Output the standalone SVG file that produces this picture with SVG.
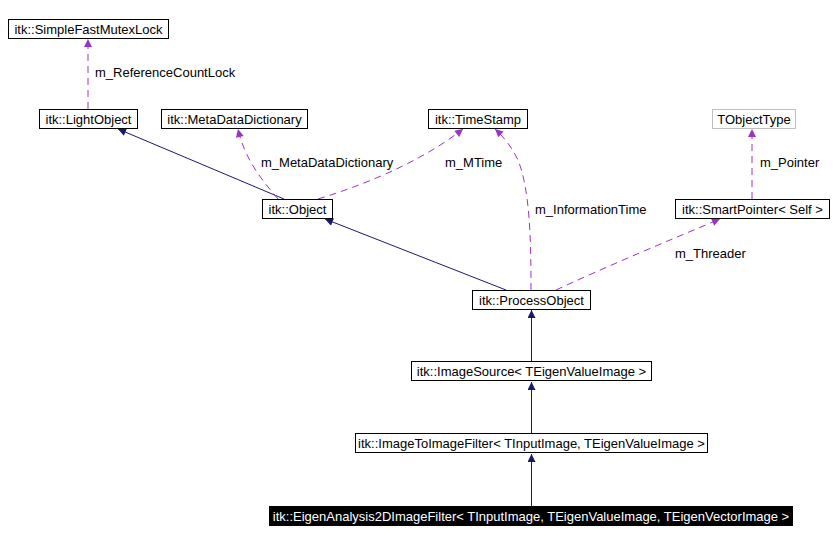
<svg xmlns="http://www.w3.org/2000/svg" width="834" height="542" viewBox="0 0 834 542">
<defs>
<style>
.n rect{fill:#fff;stroke:#000;stroke-width:1}
.n text{font-family:"Liberation Sans",Arial,sans-serif;font-size:13px;fill:#000;text-anchor:middle}
.lbl{font-family:"Liberation Sans",Arial,sans-serif;font-size:13px;fill:#000}
.inh{fill:none;stroke:#191970;stroke-width:1}
.use{fill:none;stroke:#9a32cd;stroke-width:1;stroke-dasharray:7,5}
</style>
<marker id="ah" viewBox="0 0 10 10" refX="10" refY="5" markerWidth="11" markerHeight="8" markerUnits="userSpaceOnUse" orient="auto"><path d="M0,0 L10,5 L0,10 z" fill="#191970"/></marker>
<marker id="ap" viewBox="0 0 10 10" refX="10" refY="5" markerWidth="11" markerHeight="8" markerUnits="userSpaceOnUse" orient="auto"><path d="M0,0 L10,5 L0,10 z" fill="#9a32cd"/></marker>
</defs>
<rect width="834" height="542" fill="#fff"/>
<g id="edges">
<path class="use" d="M88,109 L88,39" marker-end="url(#ap)"/>
<path class="inh" d="M284,199 L118,129" marker-end="url(#ah)"/>
<path class="use" d="M278,199 C262,180 245,160 238,129" marker-end="url(#ap)"/>
<path class="use" d="M318,199 C380,180 430,155 463,129" marker-end="url(#ap)"/>
<path class="inh" d="M506,290 L325,219" marker-end="url(#ah)"/>
<path class="use" d="M531,290 C531,240 530,190 518,160 C512,148 505,138 495,129" marker-end="url(#ap)"/>
<path class="use" d="M556,290 C610,265 670,240 720,219" marker-end="url(#ap)"/>
<path class="use" d="M752,199 L752,129" marker-end="url(#ap)"/>
<path class="inh" d="M531.5,361 L531.5,310" marker-end="url(#ah)"/>
<path class="inh" d="M531.5,433 L531.5,382" marker-end="url(#ah)"/>
<path class="inh" d="M531.5,506 L531.5,454" marker-end="url(#ah)"/>
</g>
<text class="lbl" x="95" y="77">m_ReferenceCountLock</text>
<text class="lbl" x="261" y="167">m_MetaDataDictionary</text>
<text class="lbl" x="445" y="167">m_MTime</text>
<text class="lbl" x="535" y="214">m_InformationTime</text>
<text class="lbl" x="675" y="258">m_Threader</text>
<text class="lbl" x="760" y="167">m_Pointer</text>
<g id="SimpleFastMutexLock" class="n"><rect x="8.5" y="19.5" width="160" height="19"/><text x="88.5" y="33.5">itk::SimpleFastMutexLock</text></g>
<g id="LightObject" class="n"><rect x="39.5" y="109.5" width="98" height="19"/><text x="88.5" y="123.5">itk::LightObject</text></g>
<g id="MetaDataDictionary" class="n"><rect x="161.5" y="109.5" width="146" height="19"/><text x="234.5" y="123.5">itk::MetaDataDictionary</text></g>
<g id="TimeStamp" class="n"><rect x="428.5" y="109.5" width="99" height="19"/><text x="478" y="123.5">itk::TimeStamp</text></g>
<g id="TObjectType" class="n"><rect x="712.5" y="109.5" width="83" height="19" style="stroke:#bfbfbf"/><text x="754" y="123.5">TObjectType</text></g>
<g id="Object" class="n"><rect x="262.5" y="199.5" width="70" height="19"/><text x="297.5" y="213.5">itk::Object</text></g>
<g id="SmartPointer" class="n"><rect x="675.5" y="199.5" width="154" height="19"/><text x="752.5" y="213.5">itk::SmartPointer&lt; Self &gt;</text></g>
<g id="ProcessObject" class="n"><rect x="472.5" y="290.5" width="118" height="19"/><text x="531.5" y="304.5">itk::ProcessObject</text></g>
<g id="ImageSource" class="n"><rect x="411.5" y="361.5" width="240" height="19"/><text x="531.5" y="375.5">itk::ImageSource&lt; TEigenValueImage &gt;</text></g>
<g id="ImageToImageFilter" class="n"><rect x="355.5" y="433.5" width="352" height="19"/><text x="531.5" y="447.5">itk::ImageToImageFilter&lt; TInputImage, TEigenValueImage &gt;</text></g>
<g id="EigenAnalysis2DImageFilter" class="n"><rect x="269.5" y="506.5" width="523" height="19" style="fill:#000"/><text x="531" y="520.5" style="fill:#fff">itk::EigenAnalysis2DImageFilter&lt; TInputImage, TEigenValueImage, TEigenVectorImage &gt;</text></g>
</svg>
